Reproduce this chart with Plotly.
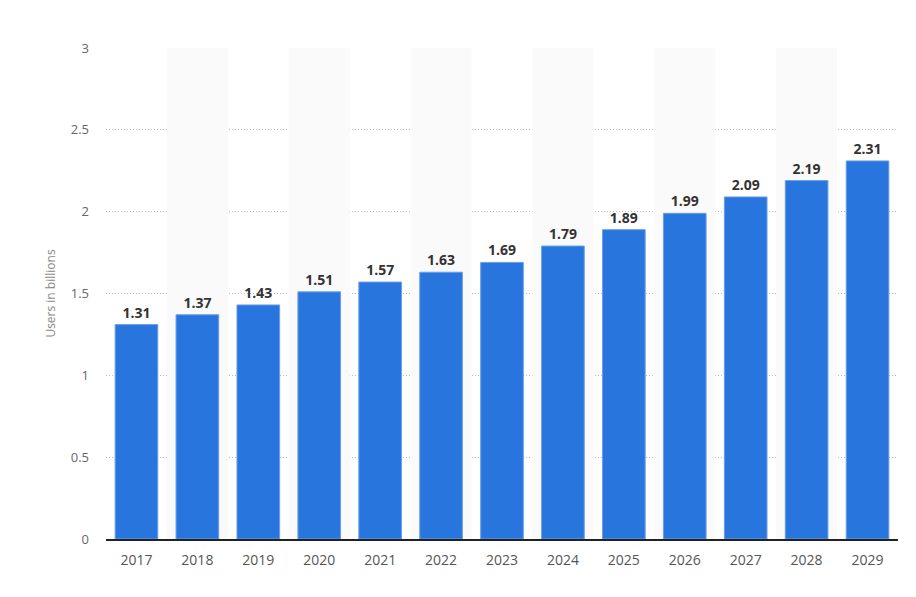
import plotly.graph_objects as go

years = ['2017', '2018', '2019', '2020', '2021', '2022', '2023',
         '2024', '2025', '2026', '2027', '2028', '2029']
users = [1.31, 1.37, 1.43, 1.51, 1.57, 1.63, 1.69,
         1.79, 1.89, 1.99, 2.09, 2.19, 2.31]
band_years = years[1::2]
y_max = 3

fig = go.Figure()

# alternating column shading
fig.add_trace(go.Bar(
    x=band_years, y=[y_max] * len(band_years), width=1,
    marker=dict(color='#fafafa', line=dict(width=0)),
    hoverinfo='skip', showlegend=False,
))

fig.add_trace(go.Bar(
    x=years, y=users, width=0.7,
    marker=dict(color='#2876dd', line=dict(color='#6a9fe6', width=1)),
    text=[f'{v:.2f}' for v in users], textposition='outside',
    textfont=dict(family='Open Sans', size=14, color='#333333', weight='bold'),
    cliponaxis=False, showlegend=False,
))

fig.update_layout(
    width=916, height=597,
    margin=dict(l=98, r=26, t=40, b=66),
    paper_bgcolor='white', plot_bgcolor='white',
    barmode='overlay',
    font=dict(family='Open Sans', color='#666666', size=13),
    xaxis=dict(
        type='category', categoryorder='array', categoryarray=years,
        showgrid=False, showline=True, linecolor='#222222', linewidth=2,
        ticks='', ticklabelstandoff=7, tickfont=dict(size=14, color='#555555'),
    ),
    yaxis=dict(
        range=[0, y_max], dtick=0.5, showgrid=True,
        gridcolor='#bbbbbb', griddash='1px,2px', gridwidth=1,
        zeroline=False, ticks='', ticklabelstandoff=16,
        tickfont=dict(size=13, color='#666666'),
        title=dict(text='Users in billions', font=dict(size=12, color='#888888'), standoff=12),
    ),
)

fig.write_html('out.html')
